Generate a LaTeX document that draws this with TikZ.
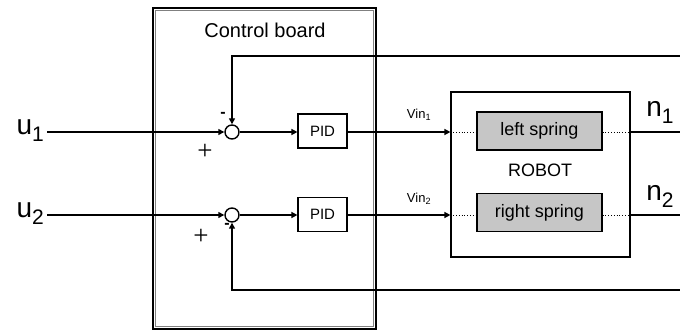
\documentclass[tikz,border=0pt]{standalone}
\usepackage{fontspec}
\setmainfont{Liberation Sans}
\newfontfamily\thinfont{Liberation Serif}
\usetikzlibrary{arrows.meta}
\begin{document}
\begin{tikzpicture}[x=1pt,y=-1pt,
  conn/.style={line width=1.4pt},
  arr/.style={conn,-{Triangle[length=6pt,width=6pt]}},
  sumc/.style={circle,draw,line width=1.4pt,minimum size=14pt,inner sep=0pt},
  pidbox/.style={draw,line width=1.2pt,minimum width=49pt,minimum height=34pt,inner sep=0pt,font=\fontsize{15}{17}\selectfont},
  springbox/.style={draw,line width=1.2pt,fill=gray!45,minimum width=125pt,minimum height=38pt,inner sep=0pt,font=\fontsize{18}{20}\selectfont},
  big/.style={font=\fontsize{28}{30}\selectfont},
  small/.style={font=\fontsize{13}{15}\selectfont},
  sign/.style={font=\thinfont\fontsize{27}{29}\selectfont,inner sep=0pt},
  dotc/.style={line width=0.8pt,dotted}]
\useasboundingbox (0,0) rectangle (680,331);
% control board
\node[draw=black,line width=2pt,minimum width=223pt,minimum height=321pt,inner sep=0pt] (board) at (264.5,168.5) {};
\draw[gray,line width=0.7pt] (155.5,10.5) rectangle (373.5,326.5);
\node[font=\fontsize{20}{22}\selectfont] (cbt) at (265,30) {Control board};
% summing junctions
\node[sumc] (s1) at (232,132) {};
\node[sumc] (s2) at (232,215) {};
% PIDs
\node[pidbox] (p1) at (322.5,131) {PID};
\node[pidbox] (p2) at (322.5,214.5) {PID};
% robot
\node[draw,line width=1.2pt,minimum width=179pt,minimum height=165pt,inner sep=0pt] (robot) at (540.5,174.5) {};
\node[springbox] (ls) at (539.5,131) {left spring};
\node[springbox] (rs) at (539.5,212.5) {right spring};
\node[font=\fontsize{18}{20}\selectfont] (rt) at (540,170) {ROBOT};
% inputs
\node[big,anchor=east,inner sep=0pt] (u1) at (44,131) {u\raisebox{-0.25em}{\fontsize{21}{22}\selectfont 1}};
\node[big,anchor=east,inner sep=0pt] (u2) at (44,214) {u\raisebox{-0.25em}{\fontsize{21}{22}\selectfont 2}};
\coordinate (u1e) at (47,132);
\coordinate (u2e) at (47,215);
\draw[arr] (u1e) -- (s1.west);
\draw[arr] (u2e) -- (s2.west);
\draw[arr] (s1.east) -- (p1.west |- s1.east);
\draw[arr] (s2.east) -- (p2.west |- s2.east);
% PID to robot
\draw[arr] (p1.east |- s1.east) -- (robot.west |- s1.east);
\draw[arr] (p2.east |- s2.east) -- (robot.west |- s2.east);
\node[small] (v1) at (419,115) {Vin\textsubscript{1}};
\node[small] (v2) at (419,199) {Vin\textsubscript{2}};
% dotted inside robot
\draw[dotc] (robot.west |- s1.east) -- (ls.west |- s1.east);
\draw[dotc] (robot.west |- s2.east) -- (rs.west |- s2.east);
\draw[dotc] (ls.east |- s1.east) -- (robot.east |- s1.east);
\draw[dotc] (rs.east |- s2.east) -- (robot.east |- s2.east);
% outputs
\coordinate (o1) at (680,132);
\coordinate (o2) at (680,215);
\draw[conn] (robot.east |- o1) -- (o1);
\draw[conn] (robot.east |- o2) -- (o2);
\node[big,inner sep=0pt] (n1) at (660,112) {n\raisebox{-0.25em}{\fontsize{21}{22}\selectfont 1}};
\node[big,inner sep=0pt] (n2) at (660,196) {n\raisebox{-0.25em}{\fontsize{21}{22}\selectfont 2}};
% feedback
\coordinate (f1) at (680,56);
\coordinate (f2) at (680,290);
\draw[arr] (f1) -| (s1.north);
\draw[arr] (f2) -| (s2.south);
% signs
\node[font=\fontsize{16}{18}\selectfont\bfseries] (m1) at (223,115) {-};
\node[font=\fontsize{16}{18}\selectfont\bfseries] (m2) at (227,226) {-};
\node[sign] (pl1) at (205,152) {+};
\node[sign] (pl2) at (201,237) {+};
\end{tikzpicture}
\end{document}
